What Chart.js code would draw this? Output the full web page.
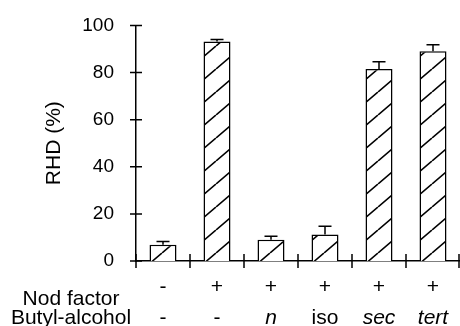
<!DOCTYPE html>
<html>
<head>
<meta charset="utf-8">
<script src="https://cdn.jsdelivr.net/npm/chart.js@4"></script>
<style>
  html, body { margin: 0; padding: 0; background: #fff; }
</style>
</head>
<body>
<canvas id="canvas" width="460" height="326"></canvas>
<script>
// values
const categories = ["1", "2", "3", "4", "5", "6"];
const nodFactor = ["-", "+", "+", "+", "+", "+"];
const butylAlcohol = ["-", "-", "n", "iso", "sec", "tert"];
const butylItalic = [false, false, true, false, true, true];
const rhd = [6.9, 93.2, 9.0, 11.2, 81.5, 89.0];
const rhdError = [1.4, 0.8, 1.5, 3.5, 3.1, 2.8];
const yTicks = [0, 20, 40, 60, 80, 100];

const FONT = "'Liberation Sans', Arial, Helvetica, sans-serif";

function hatch() {
  const w = 27, h = 23;
  const c = document.createElement("canvas");
  c.width = w;
  c.height = h;
  const g = c.getContext("2d");
  g.fillStyle = "#fff";
  g.fillRect(0, 0, w, h);
  g.strokeStyle = "#000";
  g.lineWidth = 1.6;
  g.beginPath();
  for (let k = -1; k <= 1; k++) {
    g.moveTo(k * w, h);
    g.lineTo(k * w + w, 0);
  }
  g.stroke();
  return g.createPattern(c, "repeat");
}

const paper = {
  id: "paper",
  afterDatasetsDraw(chart) {
    const ctx = chart.ctx;
    const y = chart.scales.y;
    const meta = chart.getDatasetMeta(0);
    ctx.save();
    ctx.strokeStyle = "#000";
    ctx.lineWidth = 1.5;
    meta.data.forEach((bar, i) => {
      const top = y.getPixelForValue(rhd[i]);
      const end = y.getPixelForValue(rhd[i] + rhdError[i]);
      ctx.beginPath();
      ctx.moveTo(bar.x, top);
      ctx.lineTo(bar.x, end);
      ctx.moveTo(bar.x - 6.5, end);
      ctx.lineTo(bar.x + 6.5, end);
      ctx.stroke();
    });
    ctx.restore();
  },
  afterDraw(chart) {
    const ctx = chart.ctx;
    const x = chart.scales.x;
    const y = chart.scales.y;
    const area = chart.chartArea;
    ctx.save();
    ctx.strokeStyle = "#000";
    ctx.lineWidth = 1.5;

    // tick marks crossing the axes
    ctx.beginPath();
    yTicks.forEach((v) => {
      const py = y.getPixelForValue(v);
      ctx.moveTo(area.left - 6, py);
      ctx.lineTo(area.left + 6, py);
    });
    const step = x.getPixelForValue(1) - x.getPixelForValue(0);
    for (let i = 0; i <= categories.length; i++) {
      let px = x.getPixelForValue(0) - step / 2 + i * step;
      px = Math.min(px, area.right - 1);
      ctx.moveTo(px, area.bottom - 7);
      ctx.lineTo(px, area.bottom + 7);
    }
    ctx.stroke();

    // treatment table under the axis
    ctx.fillStyle = "#000";
    ctx.textAlign = "center";
    ctx.textBaseline = "alphabetic";
    ctx.font = "21px " + FONT;
    ctx.fillText("Nod factor", 71, 305);
    ctx.fillText("Butyl-alcohol", 71, 324);
    categories.forEach((c, i) => {
      const px = x.getPixelForValue(i);
      ctx.font = "21px " + FONT;
      ctx.fillText(nodFactor[i], px, 293);
      ctx.font = (butylItalic[i] ? "italic " : "") + "21px " + FONT;
      ctx.fillText(butylAlcohol[i], px, 324);
    });
    ctx.restore();
  }
};

const ctx = document.getElementById("canvas").getContext("2d");
const myChart = new Chart(ctx, {
  type: "bar",
  data: {
    labels: categories,
    datasets: [
      {
        data: rhd,
        backgroundColor: hatch(),
        borderColor: "#000",
        borderWidth: 1.5,
        barPercentage: 0.5,
        categoryPercentage: 1,
      },
    ],
  },
  options: {
    responsive: false,
    animation: false,
    devicePixelRatio: 1,
    layout: { padding: { top: 24, bottom: 65, left: 0, right: 0 } },
    plugins: {
      legend: { display: false },
      tooltip: { enabled: false },
    },
    scales: {
      x: {
        ticks: { display: false },
        grid: { display: false },
        border: { display: true, color: "#000", width: 1.5 },
        afterFit(scale) {
          scale.height = 0;
        },
      },
      y: {
        min: 0,
        max: 100,
        afterBuildTicks(scale) {
          scale.ticks = yTicks.map((v) => ({ value: v }));
        },
        ticks: {
          color: "#000",
          font: { family: FONT, size: 19 },
          padding: 14,
        },
        grid: { display: false },
        border: { display: true, color: "#000", width: 1.5 },
        title: {
          display: true,
          text: "RHD (%)",
          color: "#000",
          font: { family: FONT, size: 21 },
          padding: { top: 42, bottom: 0 },
        },
        afterFit(scale) {
          scale.width = 136;
        },
      },
    },
  },
  plugins: [paper],
});
</script>
</body>
</html>
